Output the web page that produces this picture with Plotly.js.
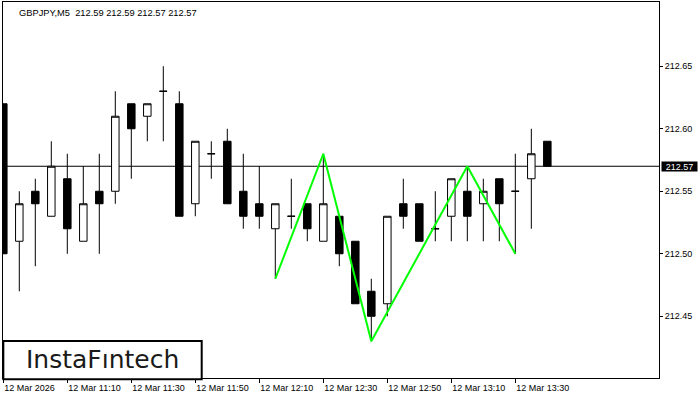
<!DOCTYPE html>
<html>
<head>
<meta charset="utf-8">
<script src="https://cdn.plot.ly/plotly-3.0.1.min.js"></script>
<style>
html,body{margin:0;padding:0;background:#fff;}
#chart{width:700px;height:400px;}
</style>
</head>
<body>
<div id="chart"></div>
<script>
// ---- data ----
var symbol = "GBPJPY,M5";
var times = ["10:50","10:55","11:00","11:05","11:10","11:15","11:20","11:25","11:30","11:35",
             "11:40","11:45","11:50","11:55","12:00","12:05","12:10","12:15","12:20","12:25",
             "12:30","12:35","12:40","12:45","12:50","12:55","13:00","13:05","13:10","13:15",
             "13:20","13:25","13:30","13:35","13:40"];
var openP  = [212.62,212.51,212.55,212.53,212.56,212.51,212.55,212.55,212.62,212.61,
              212.63,212.62,212.54,212.58,212.59,212.55,212.54,212.52,212.53,212.54,
              212.51,212.53,212.51,212.47,212.46,212.54,212.54,212.52,212.53,212.55,
              212.54,212.56,212.55,212.56,212.59];
var highP  = [212.62,212.55,212.56,212.59,212.58,212.57,212.58,212.63,212.62,212.62,
              212.65,212.63,212.59,212.59,212.60,212.58,212.57,212.54,212.56,212.54,
              212.58,212.53,212.51,212.48,212.53,212.56,212.54,212.55,212.56,212.57,
              212.56,212.56,212.58,212.60,212.59];
var lowP   = [212.50,212.47,212.49,212.53,212.50,212.51,212.50,212.54,212.56,212.59,
              212.59,212.53,212.53,212.56,212.54,212.52,212.52,212.48,212.52,212.51,
              212.51,212.49,212.46,212.43,212.45,212.52,212.51,212.51,212.51,212.51,
              212.51,212.51,212.50,212.52,212.57];
var closeP = [212.50,212.54,212.54,212.57,212.52,212.54,212.54,212.61,212.60,212.62,
              212.63,212.53,212.59,212.58,212.54,212.53,212.53,212.54,212.53,212.52,
              212.54,212.50,212.46,212.45,212.53,212.53,212.51,212.52,212.56,212.53,
              212.55,212.54,212.55,212.58,212.57];
var tickTimes  = ["10:50","11:10","11:30","11:50","12:10","12:30","12:50","13:10","13:30"];
var tickLabels = ["12 Mar 2026","12 Mar 11:10","12 Mar 11:30","12 Mar 11:50","12 Mar 12:10",
                  "12 Mar 12:30","12 Mar 12:50","12 Mar 13:10","12 Mar 13:30"];
var priceTicks = [212.45,212.50,212.55,212.60,212.65];
var patternTimes  = ["12:15","12:30","12:45","13:15","13:30"];
var patternPrices = [212.48,212.58,212.43,212.57,212.50];
var brand = "InstaF\u0131ntech";

// ---- build ----
var xIdx = times.map(function(t,i){return i;});
var last = times.length-1;
var lastClose = closeP[last];
var header = symbol + "  " + [openP[last],highP[last],lowP[last],closeP[last]].map(function(v){return v.toFixed(2);}).join(" ");
var fontAx = {family:"Liberation Sans, Arial, sans-serif", size:9, color:"#000"};

var candle = {
  type:"candlestick", x:xIdx, open:openP, high:highP, low:lowP, close:closeP,
  increasing:{line:{color:"#000",width:1}, fillcolor:"#ffffff"},
  decreasing:{line:{color:"#000",width:1}, fillcolor:"#000000"},
  whiskerwidth:0, hoverinfo:"skip", showlegend:false
};
var pattern = {
  type:"scatter", mode:"lines",
  x:patternTimes.map(function(t){return times.indexOf(t);}), y:patternPrices,
  line:{color:"#00ff00",width:2}, hoverinfo:"skip", showlegend:false
};

var layout = {
  width:700, height:400,
  margin:{l:3,r:41,t:2,b:22,pad:0},
  paper_bgcolor:"#fff", plot_bgcolor:"#fff",
  boxgap:0.33,
  showlegend:false,
  xaxis:{
    type:"linear", range:[-0.019,40.98], rangeslider:{visible:false},
    showgrid:false, zeroline:false,
    showline:true, linecolor:"#000", linewidth:1, mirror:true,
    ticks:"outside", ticklen:4, tickcolor:"#000", tickwidth:1,
    tickmode:"array",
    tickvals:tickTimes.map(function(t){return times.indexOf(t);}),
    ticktext:tickLabels,
    ticklabelposition:"outside right",
    ticklabelstandoff:1,
    tickfont:fontAx, fixedrange:true
  },
  yaxis:{
    side:"right", range:[212.4006,212.7014],
    showgrid:false, zeroline:false,
    showline:true, linecolor:"#000", linewidth:1, mirror:true,
    ticks:"outside", ticklen:3, tickcolor:"#000", tickwidth:1,
    tickmode:"array", tickvals:priceTicks,
    ticktext:priceTicks.map(function(v){return v.toFixed(2);}),
    tickfont:fontAx, fixedrange:true
  },
  shapes:[
    {type:"line", xref:"paper", x0:0, x1:1, yref:"y", y0:lastClose, y1:lastClose,
     line:{color:"#000",width:1}, layer:"below"},
    {type:"rect", xref:"paper", yref:"paper", x0:0.0005, x1:0.3029, y0:-0.003, y1:0.0984,
     line:{color:"#000",width:2}, fillcolor:"#fff", layer:"above"}
  ],
  annotations:[
    {xref:"paper", yref:"paper", x:0, y:1, xanchor:"left", yanchor:"top", xshift:14, yshift:-4,
     text:header, showarrow:false, font:{family:"Liberation Sans, Arial, sans-serif", size:9.3, color:"#000"}},
    {xref:"paper", yref:"y", x:1, y:lastClose, xanchor:"left", yanchor:"middle", xshift:2,
     text:lastClose.toFixed(2), showarrow:false, bgcolor:"#000", borderpad:0, width:35, height:9,
     font:{family:"Liberation Sans, Arial, sans-serif", size:9, color:"#fff"}},
    {xref:"paper", yref:"paper", x:0.1517, y:0.048, xanchor:"center", yanchor:"middle",
     text:brand, showarrow:false, font:{family:"DejaVu Sans, sans-serif", size:25, color:"#1a1a1a"}}
  ]
};

Plotly.newPlot("chart",[candle,pattern],layout,{staticPlot:true,displayModeBar:false});
</script>
</body>
</html>
